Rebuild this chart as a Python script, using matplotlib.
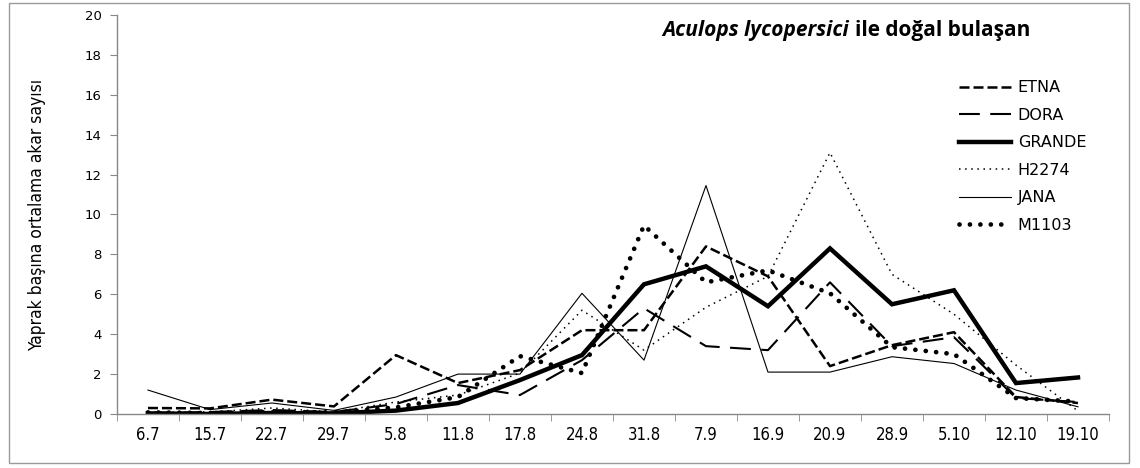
import matplotlib
matplotlib.use("Agg")
import matplotlib.pyplot as plt
from matplotlib.patches import Rectangle
import numpy as np

# sampling dates (day.month)
dates = ['6.7', '15.7', '22.7', '29.7', '5.8', '11.8', '17.8', '24.8',
         '31.8', '7.9', '16.9', '20.9', '28.9', '5.10', '12.10', '19.10']

# mean number of mites per leaf for each cultivar
etna = [0.3, 0.28, 0.72, 0.38, 2.95, 1.55, 2.2, 4.2, 4.2, 8.4, 6.9, 2.4, 3.45, 4.1, 0.85, 0.55]
dora = [0.05, 0.1, 0.2, 0.1, 0.5, 1.45, 0.95, 2.7, 5.3, 3.4, 3.2, 6.6, 3.4, 3.85, 0.8, 0.6]
grande = [0.03, 0.0, 0.05, 0.03, 0.17, 0.55, 1.7, 2.95, 6.5, 7.4, 5.4, 8.3, 5.5, 6.2, 1.55, 1.83]
h2274 = [0.1, 0.1, 0.3, 0.1, 0.6, 0.95, 2.05, 5.2, 3.2, 5.35, 6.9, 13.1, 7.0, 5.0, 2.45, 0.15]
jana = [1.2, 0.22, 0.55, 0.18, 0.85, 2.0, 2.0, 6.05, 2.7, 11.45, 2.1, 2.1, 2.87, 2.53, 1.2, 0.36]
m1103 = [0.08, 0.05, 0.1, 0.08, 0.33, 0.85, 2.9, 2.05, 9.45, 6.6, 7.2, 6.05, 3.35, 3.0, 0.8, 0.62]

narrow = ['Liberation Sans Narrow', 'DejaVu Sans']

fig = plt.figure(figsize=(11.4, 4.68), dpi=100)
ax = fig.add_axes([0.1026, 0.1154, 0.8702, 0.8526])

x = np.arange(len(dates))
ax.plot(x, etna, color='black', lw=1.8, linestyle=(0, (4, 1.6)), label='ETNA')
ax.plot(x, dora, color='black', lw=1.5, linestyle=(0, (10, 5)), label='DORA')
ax.plot(x, grande, color='black', lw=3.2, solid_joinstyle='miter', label='GRANDE')
ax.plot(x, h2274, color='black', lw=1.1, linestyle=(0, (1, 3)), label='H2274')
ax.plot(x, jana, color='black', lw=0.8, label='JANA')
ax.plot(x, m1103, color='black', lw=3.4, linestyle=(0, (0.01, 2.2)),
        dash_capstyle='round', label='M1103')

ax.set_xlim(-0.5, len(dates) - 0.5)
ax.set_ylim(0, 20)
ax.set_yticks(np.arange(0, 21, 2))
ax.tick_params(axis='y', direction='out', length=5, color='#888888',
               labelsize=9.5, pad=6)

# category labels at centres, tick marks on the boundaries
ax.set_xticks(x)
ax.set_xticklabels(dates, fontfamily=narrow, fontstretch='condensed', fontsize=12)
ax.tick_params(axis='x', which='major', length=0, pad=9)
ax.set_xticks(np.arange(-0.5, len(dates)), minor=True)
ax.tick_params(axis='x', which='minor', direction='out', length=5, color='#888888')

for side in ['top', 'right']:
    ax.spines[side].set_visible(False)
for side in ['left', 'bottom']:
    ax.spines[side].set_color('#888888')
    ax.spines[side].set_linewidth(1.0)

ax.set_ylabel('Yaprak başına ortalama akar sayısı', fontfamily=narrow,
              fontstretch='condensed', fontsize=12.5, labelpad=28)

# title: italic species name followed by upright text
t1 = fig.text(0.581, 0.934, 'Aculops lycopersici', style='italic', fontweight='bold',
              fontfamily='Open Sans', fontsize=15, ha='left', va='center')
fig.canvas.draw()
bb = t1.get_window_extent()
fig.text((bb.x1 + 6) / 1140, 0.934, 'ile doğal bulaşan', fontweight='bold',
         fontfamily='Open Sans', fontsize=15, ha='left', va='center')

leg = ax.legend(loc='upper left', bbox_to_anchor=(0.841, 0.828),
                bbox_transform=fig.transFigure, frameon=False, fontsize=11.5,
                handlelength=3.3, handletextpad=0.4, labelspacing=0.78,
                borderpad=0, borderaxespad=0)

# outer chart border
fig.patches.append(Rectangle((9 / 1140, 5 / 468), 1120 / 1140, 460 / 468,
                             transform=fig.transFigure, fill=False,
                             edgecolor='#9a9a9a', lw=1.0))

fig.savefig('out.png', dpi=100)
